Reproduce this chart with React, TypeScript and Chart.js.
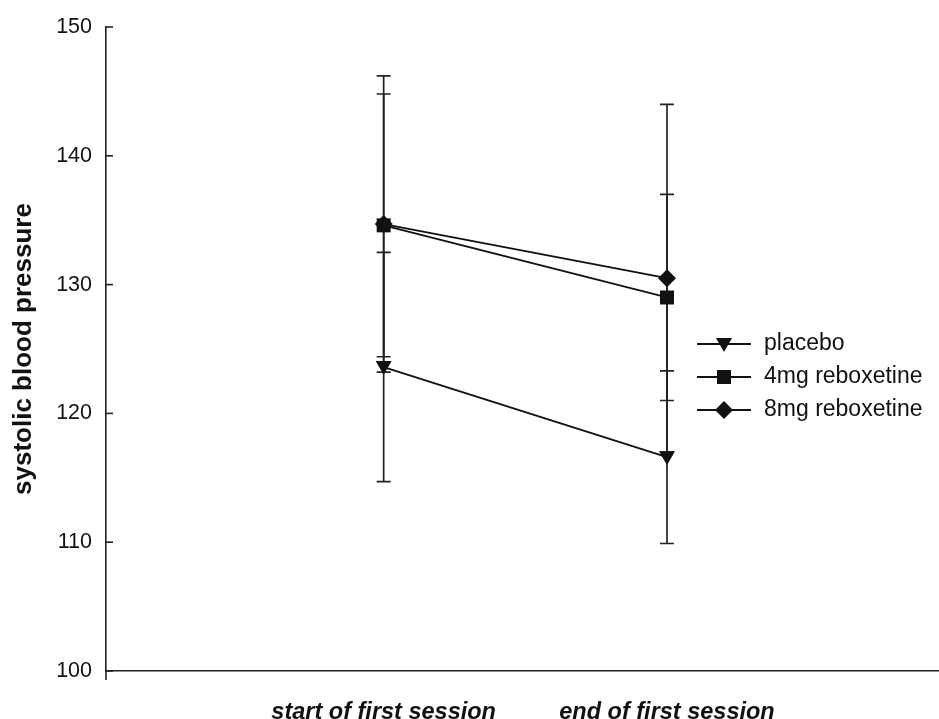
import React, { useEffect, useRef } from "react";
import { Chart, registerables } from "chart.js";

Chart.register(...registerables);

const categories = ["start of first session", "end of first session"];
const seriesNames = ["placebo", "4mg reboxetine", "8mg reboxetine"];
const placeboMean = [123.6, 116.6];
const placeboErr = [8.9, 6.7];
const mg4Mean = [134.6, 129.0];
const mg4Err = [10.2, 8.0];
const mg8Mean = [134.7, 130.5];
const mg8Err = [11.5, 13.5];
const yTicks = [100, 110, 120, 130, 140, 150];

const means = [placeboMean, mg4Mean, mg8Mean];
const errs = [placeboErr, mg4Err, mg8Err];
const markerStyles = ["triangle-down", "rect", "diamond"];
const FONT = "'Liberation Sans', Arial, sans-serif";

function drawMarker(ctx: CanvasRenderingContext2D, style: string, x: number, y: number) {
  ctx.save();
  ctx.fillStyle = "#111";
  ctx.beginPath();
  if (style === "triangle-down") {
    ctx.moveTo(x - 8, y - 6);
    ctx.lineTo(x + 8, y - 6);
    ctx.lineTo(x, y + 8);
    ctx.closePath();
  } else if (style === "rect") {
    ctx.rect(x - 7, y - 7, 14, 14);
  } else {
    ctx.moveTo(x, y - 9);
    ctx.lineTo(x + 9, y);
    ctx.lineTo(x, y + 9);
    ctx.lineTo(x - 9, y);
    ctx.closePath();
  }
  ctx.fill();
  ctx.restore();
}

const customPlugin = {
  id: "custom",
  beforeDatasetsDraw(chart: any) {
    const ctx = chart.ctx as CanvasRenderingContext2D;
    const xs = chart.scales.x;
    const ys = chart.scales.y;
    const area = chart.chartArea;
    ctx.save();
    ctx.strokeStyle = "#222";
    ctx.lineWidth = 1.6;
    yTicks.forEach((v) => {
      const py = ys.getPixelForValue(v);
      ctx.beginPath();
      ctx.moveTo(area.left, py);
      ctx.lineTo(area.left + 7, py);
      ctx.stroke();
    });
    ctx.beginPath();
    ctx.moveTo(area.left, area.bottom);
    ctx.lineTo(area.left, area.bottom + 9);
    ctx.stroke();
    ctx.lineWidth = 1.7;
    means.forEach((m, si) => {
      m.forEach((v, i) => {
        const px = xs.getPixelForValue(i + 1);
        const top = ys.getPixelForValue(v + errs[si][i]);
        const bot = ys.getPixelForValue(v - errs[si][i]);
        ctx.beginPath();
        ctx.moveTo(px, top);
        ctx.lineTo(px, bot);
        ctx.moveTo(px - 7, top);
        ctx.lineTo(px + 7, top);
        ctx.moveTo(px - 7, bot);
        ctx.lineTo(px + 7, bot);
        ctx.stroke();
      });
    });
    ctx.restore();
  },
  afterDatasetsDraw(chart: any) {
    const ctx = chart.ctx as CanvasRenderingContext2D;
    const xs = chart.scales.x;
    const ys = chart.scales.y;
    means.forEach((m, si) => {
      m.forEach((v, i) => {
        drawMarker(ctx, markerStyles[si], xs.getPixelForValue(i + 1), ys.getPixelForValue(v));
      });
    });
    ctx.save();
    ctx.font = `23px ${FONT}`;
    ctx.textBaseline = "middle";
    ctx.fillStyle = "#111";
    const lx = 697;
    const ly = [344, 377, 410];
    seriesNames.forEach((name, i) => {
      ctx.strokeStyle = "#111";
      ctx.lineWidth = 1.8;
      ctx.beginPath();
      ctx.moveTo(lx, ly[i]);
      ctx.lineTo(lx + 54, ly[i]);
      ctx.stroke();
      drawMarker(ctx, markerStyles[i], lx + 27, ly[i]);
      ctx.fillText(name, lx + 67, ly[i]);
    });
    ctx.restore();
  },
};

export default function App() {
  const ref = useRef<HTMLCanvasElement | null>(null);
  useEffect(() => {
    if (!ref.current) return;
    const chart = new Chart(ref.current, {
      type: "line",
      data: {
        datasets: means.map((m, si) => ({
          label: seriesNames[si],
          data: m.map((v, i) => ({ x: i + 1, y: v })),
          borderColor: "#111",
          borderWidth: 1.8,
          pointRadius: 0,
          fill: false,
        })),
      },
      options: {
        animation: false,
        responsive: false,
        maintainAspectRatio: false,
        layout: { padding: { top: 27, right: 0, left: 0, bottom: 0 } },
        plugins: { legend: { display: false }, tooltip: { enabled: false } },
        scales: {
          x: {
            type: "linear",
            min: 0.02,
            max: 2.96,
            afterBuildTicks: (s: any) => {
              s.ticks = categories.map((_, i) => ({ value: i + 1 }));
            },
            afterFit: (s: any) => {
              s.height = 48;
            },
            ticks: {
              autoSkip: false,
              maxRotation: 0,
              padding: 27,
              color: "#111",
              font: { family: FONT, size: 23.5, weight: "bold", style: "italic" },
              callback: (v: any) => categories[Math.round(v) - 1] ?? "",
            },
            grid: { display: false, drawTicks: false },
            border: { display: true, color: "#222", width: 1.6 },
          },
          y: {
            min: 100,
            max: 150,
            afterBuildTicks: (s: any) => {
              s.ticks = yTicks.map((v) => ({ value: v }));
            },
            afterFit: (s: any) => {
              s.width = 106;
            },
            ticks: {
              padding: 14,
              color: "#111",
              font: { family: FONT, size: 21.5 },
            },
            grid: { display: false, drawTicks: false },
            border: { display: true, color: "#222", width: 1.6 },
            title: {
              display: true,
              text: "systolic blood pressure",
              color: "#111",
              padding: { top: 8, bottom: 0 },
              font: { family: FONT, size: 26, weight: "bold" },
            },
          },
        },
      },
      plugins: [customPlugin],
    });
    return () => chart.destroy();
  }, []);
  return (
    <div style={{ position: "fixed", left: 0, top: 0, width: 939, height: 719, background: "#fff" }}>
      <canvas ref={ref} width={939} height={719} style={{ width: 939, height: 719 }} />
    </div>
  );
}
